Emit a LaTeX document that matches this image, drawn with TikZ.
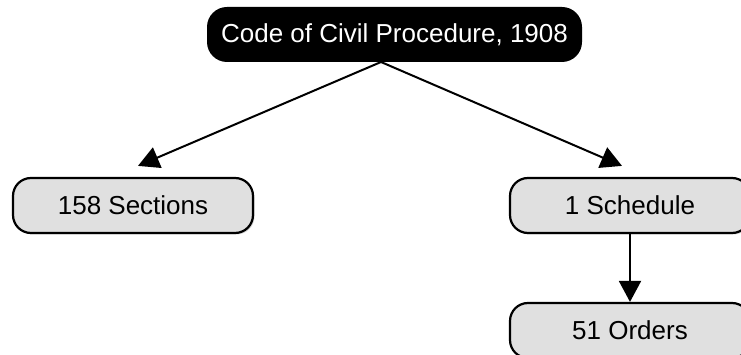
\documentclass[tikz,border=0pt]{standalone}
\usepackage{fontspec}
\setmainfont{Liberation Sans}
\usetikzlibrary{arrows.meta,shadows}

\begin{document}
\begin{tikzpicture}[x=1pt,y=-1pt,
  boxnode/.style={draw=black,line width=2.2pt,fill=boxgray,rounded corners=18pt,minimum width=240pt,minimum height=55pt,font=\fontsize{26}{30}\selectfont,drop shadow={shadow xshift=1.5pt,shadow yshift=-1.5pt,opacity=0.35}},
  topnode/.style={fill=black,text=white,rounded corners=20pt,minimum width=375pt,minimum height=55pt,font=\fontsize{26}{30}\selectfont},
  arr/.style={line width=2pt,-{Triangle[length=21pt,width=22pt]}}]
\definecolor{boxgray}{HTML}{E0E0E0}
\useasboundingbox (0,0) rectangle (741,355);
\clip (0,0) rectangle (741,355);
\node [topnode] (code) at (394.5,34.5) {Code of Civil Procedure, 1908};
  \foreach \nm/\txt/\x/\y in {sections/158 Sections/133/205.5,schedule/1 Schedule/630/205.5,orders/51 Orders/630/330.5}
  {  \node [boxnode] (\nm) at (\x,\y) {\txt};}
\coordinate (split) at (381,62);
\draw [arr] (split) -- ([xshift=5pt,yshift=11pt]sections.north);
\draw [arr] (split) -- ([xshift=-8pt,yshift=11pt]schedule.north);
\draw [arr] (schedule.south) -- (orders.north);
\end{tikzpicture}
\end{document}
